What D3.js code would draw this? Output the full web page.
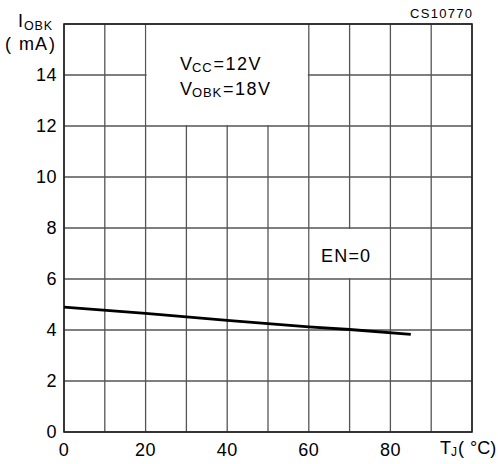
<!DOCTYPE html>
<html>
<head>
<meta charset="utf-8">
<script src="https://cdn.jsdelivr.net/npm/d3@7"></script>
<style>
  body { margin: 0; background: #fff; }
  text { font-family: "Liberation Sans", Arial, sans-serif; fill: #000; }
</style>
</head>
<body>
<div id="chart"></div>
<script>
// curve
var temps = [0, 20, 40, 60, 70, 85];
var currents = [4.9, 4.65, 4.38, 4.12, 4.02, 3.83];

var xTicks = [0, 20, 40, 60, 80];
var yTicks = [0, 2, 4, 6, 8, 10, 12, 14];
var xGrid = d3.range(0, 101, 10);
var yGrid = d3.range(0, 17, 2);

var W = 498, H = 464;
var margins = { top: 24, left: 64, right: 26, bottom: 32 };

var svg = d3.select('#chart').append('svg')
        .attr('width', W)
        .attr('height', H);

var xScale = d3.scaleLinear().domain([0, 100]).range([margins.left, W - margins.right]);
var yScale = d3.scaleLinear().domain([0, 16]).range([H - margins.bottom, margins.top]);

// grid
var grid = svg.append('g').attr('stroke', '#555').attr('stroke-width', 1.3);
xGrid.forEach(function(v) {
        grid.append('line')
                .attr('x1', xScale(v)).attr('x2', xScale(v))
                .attr('y1', yScale(0)).attr('y2', yScale(16));
});
yGrid.forEach(function(v) {
        grid.append('line')
                .attr('x1', xScale(0)).attr('x2', xScale(100))
                .attr('y1', yScale(v)).attr('y2', yScale(v));
});

// blank boxes behind the notes
var boxes = [{ x0: 20, x1: 60, y0: 12, y1: 16 }, { x0: 60, x1: 80, y0: 6, y1: 8 }];
boxes.forEach(function(b) {
        svg.append('rect')
                .attr('fill', '#fff')
                .attr('x', xScale(b.x0) + 1)
                .attr('y', yScale(b.y1) + 1)
                .attr('width', xScale(b.x1) - xScale(b.x0) - 2)
                .attr('height', yScale(b.y0) - yScale(b.y1) - 2);
});

// frame
svg.append('rect')
        .attr('x', xScale(0)).attr('y', yScale(16))
        .attr('width', xScale(100) - xScale(0))
        .attr('height', yScale(0) - yScale(16))
        .attr('fill', 'none')
        .attr('stroke', '#222')
        .attr('stroke-width', 1.6);

// curve
var line = d3.line()
        .x(function(d, i) { return xScale(temps[i]); })
        .y(function(d) { return yScale(d); });
svg.append('path')
        .datum(currents)
        .attr('d', line)
        .attr('fill', 'none')
        .attr('stroke', '#000')
        .attr('stroke-width', 2.8);

// tick labels
svg.selectAll('text.xt').data(xTicks).enter().append('text')
        .attr('class', 'xt')
        .attr('x', function(d) { return xScale(d); })
        .attr('y', yScale(0) + 24)
        .attr('text-anchor', 'middle')
        .attr('font-size', 18)
        .attr('letter-spacing', 0.5)
        .text(function(d) { return d; });

svg.selectAll('text.yt').data(yTicks).enter().append('text')
        .attr('class', 'yt')
        .attr('x', margins.left - 7)
        .attr('y', function(d) { return yScale(d) + 6; })
        .attr('text-anchor', 'end')
        .attr('font-size', 18)
        .attr('letter-spacing', 0.5)
        .text(function(d) { return d; });

// axis titles
var yt = svg.append('text').attr('x', 18).attr('y', 27).attr('font-size', 18);
yt.append('tspan').text('I');
yt.append('tspan').attr('font-size', 12.5).attr('dy', 3).attr('dx', 1)
        .attr('letter-spacing', 0.8).text('OBK');

var ma = svg.append('text').attr('x', 5).attr('y', 50).attr('font-size', 18);
ma.append('tspan').text('(');
ma.append('tspan').attr('dx', 8).attr('letter-spacing', 1).text('mA');
ma.append('tspan').attr('dx', 1).text(')');

var xt = svg.append('text').attr('x', 440).attr('y', 454).attr('font-size', 18);
xt.append('tspan').text('T');
xt.append('tspan').attr('font-size', 12).attr('dy', 2).text('J');
xt.append('tspan').attr('dy', -2).attr('dx', 1).text('(');
xt.append('tspan').attr('dx', 6).text('°C)');

// notes
var n1 = svg.append('text').attr('x', 180).attr('y', 70).attr('font-size', 18);
n1.append('tspan').text('V');
n1.append('tspan').attr('font-size', 13).attr('dy', 2).attr('letter-spacing', 0.8).text('CC');
n1.append('tspan').attr('dy', -2).attr('dx', 1).attr('letter-spacing', 1.5).text('=12V');

var n2 = svg.append('text').attr('x', 180).attr('y', 95).attr('font-size', 18);
n2.append('tspan').text('V');
n2.append('tspan').attr('font-size', 13).attr('dy', 2).attr('letter-spacing', 0.8).text('OBK');
n2.append('tspan').attr('dy', -2).attr('dx', 1).attr('letter-spacing', 1.5).text('=18V');

svg.append('text').attr('x', 321).attr('y', 262).attr('font-size', 18)
        .attr('letter-spacing', 1.2).text('EN=0');

svg.append('text').attr('x', 410).attr('y', 18)
        .attr('font-size', 13).attr('textLength', 62).text('CS10770');
</script>
</body>
</html>
